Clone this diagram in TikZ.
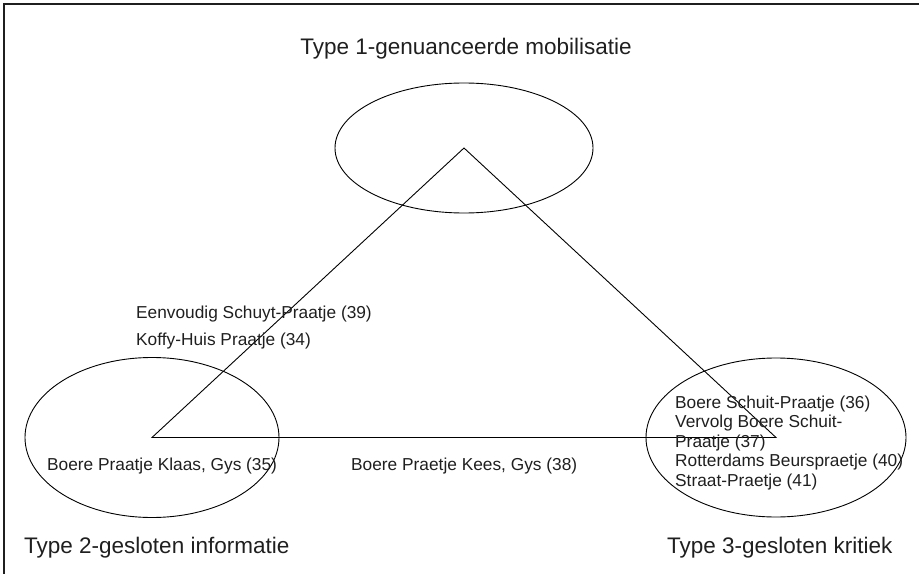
\documentclass[tikz,border=0pt]{standalone}
\usepackage{fontspec}
\setmainfont{Liberation Sans}
\usetikzlibrary{shapes.geometric}
\begin{document}
\begin{tikzpicture}[x=1bp,y=-1bp,
  frame/.style={draw=black!88, line width=2bp},
  zone/.style={draw=black, ellipse, line width=0.9bp, inner sep=0pt, outer sep=0pt},
  edge/.style={draw=black, line width=0.9bp, line join=miter},
  typelabel/.style={font=\fontsize{22.5bp}{27bp}\selectfont, text=black!88, inner sep=0pt},
  itemlabel/.style={font=\fontsize{17.3bp}{20bp}\selectfont, text=black!88, inner sep=0pt, anchor=base west}]
  \useasboundingbox (0,0) rectangle (919,574);
  % open frame: left and top rules only
  \draw[frame] (4,575) -- (4,4) -- (920,4);

  % the three type zones
  \node[zone, minimum width=258bp, minimum height=130bp] (t1) at (464,148) {};
  \node[zone, minimum width=254bp, minimum height=160bp] (t2) at (152,437.5) {};
  \node[zone, minimum width=260bp, minimum height=159bp] (t3) at (776,437.5) {};

  % triangle joining the zone centres
  \draw[edge] (t1.center) -- (t2.center) -- (t3.center) -- cycle;

  % type captions
  \node[typelabel, anchor=base] (h1) at (466,55) {Type 1-genuanceerde mobilisatie};
  \node[typelabel, anchor=base west] (h2) at (24,553) {Type 2-gesloten informatie};
  \node[typelabel, anchor=base west] (h3) at (667,553) {Type 3-gesloten kritiek};

  % texts placed in the diagram
  \node[itemlabel] (p39) at (136,318) {Eenvoudig Schuyt-Praatje (39)};
  \node[itemlabel] (p34) at (136,345) {Koffy-Huis Praatje (34)};
  \node[itemlabel] (p35) at (47,470) {Boere Praatje Klaas, Gys (35)};
  \node[itemlabel] (p38) at (351,470) {Boere Praetje Kees, Gys (38)};
  \node[itemlabel] (p36) at (675,408) {Boere Schuit-Praatje (36)};
  \node[itemlabel] (p37a) at (675,427.5) {Vervolg Boere Schuit-};
  \node[itemlabel] (p37b) at (675,447) {Praatje (37)};
  \node[itemlabel] (p40) at (675,466.5) {Rotterdams Beurspraetje (40)};
  \node[itemlabel] (p41) at (675,486) {Straat-Praetje (41)};
\end{tikzpicture}
\end{document}
